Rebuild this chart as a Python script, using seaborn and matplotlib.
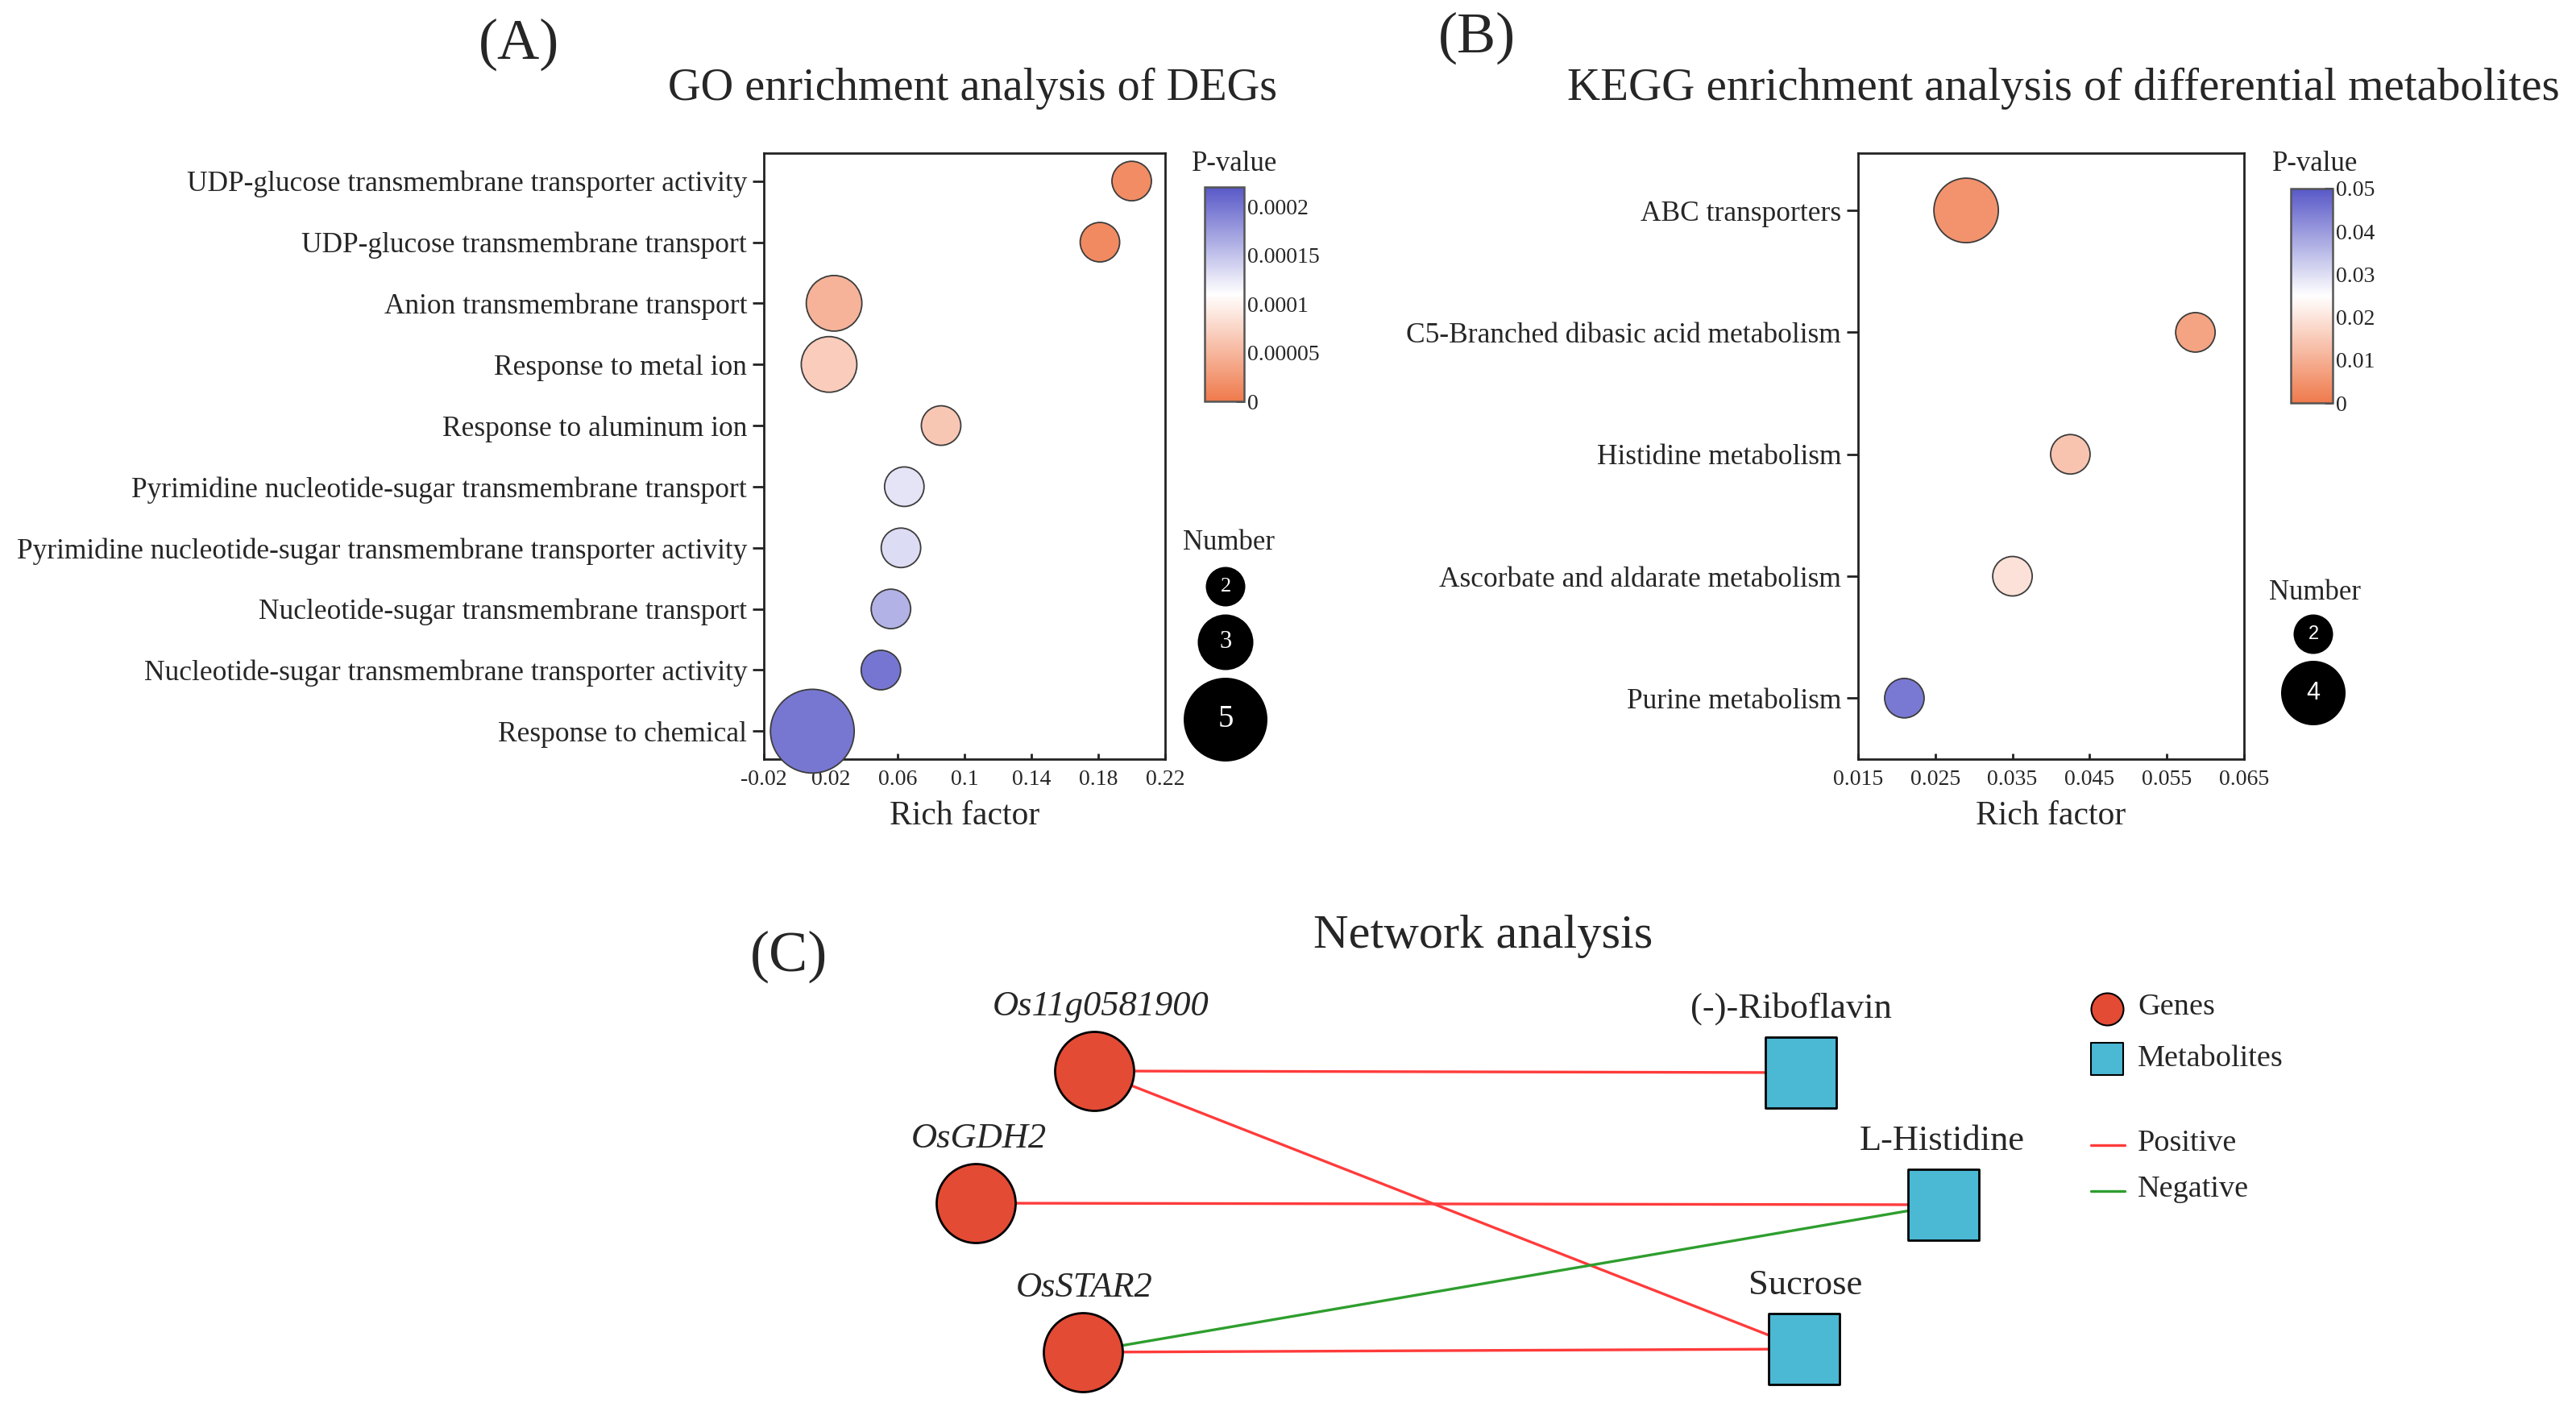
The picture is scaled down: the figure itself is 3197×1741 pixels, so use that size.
import numpy as np
import pandas as pd
import matplotlib
matplotlib.use("Agg")
import matplotlib.pyplot as plt
import seaborn as sns
from matplotlib.colors import LinearSegmentedColormap, Normalize
from matplotlib.cm import ScalarMappable

# ---------------- data ----------------
go_terms = [
    "UDP-glucose transmembrane transporter activity",
    "UDP-glucose transmembrane transport",
    "Anion transmembrane transport",
    "Response to metal ion",
    "Response to aluminum ion",
    "Pyrimidine nucleotide-sugar transmembrane transport",
    "Pyrimidine nucleotide-sugar transmembrane transporter activity",
    "Nucleotide-sugar transmembrane transport",
    "Nucleotide-sugar transmembrane transporter activity",
    "Response to chemical",
]
go_rich = [0.200, 0.181, 0.022, 0.019, 0.086, 0.064, 0.062, 0.056, 0.050, 0.009]
go_pvalue = [0.000015, 0.000013, 0.000048, 0.000068, 0.000064, 0.000128, 0.000133,
             0.000160, 0.000200, 0.000199]
go_number = [2, 2, 3, 3, 2, 2, 2, 2, 2, 5]
go_xticks = [-0.02, 0.02, 0.06, 0.1, 0.14, 0.18, 0.22]
go_xticklabels = ["-0.02", "0.02", "0.06", "0.1", "0.14", "0.18", "0.22"]
go_cbar_ticks = [0, 0.00005, 0.0001, 0.00015, 0.0002]
go_cbar_labels = ["0", "0.00005", "0.0001", "0.00015", "0.0002"]
go_pmax = 0.00022
go_legend_numbers = [2, 3, 5]

kegg_terms = [
    "ABC transporters",
    "C5-Branched dibasic acid metabolism",
    "Histidine metabolism",
    "Ascorbate and aldarate metabolism",
    "Purine metabolism",
]
kegg_rich = [0.029, 0.0587, 0.0425, 0.035, 0.021]
kegg_pvalue = [0.0048, 0.0078, 0.014, 0.0195, 0.045]
kegg_number = [4, 2, 2, 2, 2]
kegg_xticks = [0.015, 0.025, 0.035, 0.045, 0.055, 0.065]
kegg_xticklabels = ["0.015", "0.025", "0.035", "0.045", "0.055", "0.065"]
kegg_cbar_ticks = [0, 0.01, 0.02, 0.03, 0.04, 0.05]
kegg_cbar_labels = ["0", "0.01", "0.02", "0.03", "0.04", "0.05"]
kegg_pmax = 0.05
kegg_legend_numbers = [2, 4]

# network
gene_names = ["Os11g0581900", "OsGDH2", "OsSTAR2"]
gene_x = [1358, 1211, 1344]
gene_y = [1329, 1493, 1678]
metab_names = ["(-)-Riboflavin", "L-Histidine", "Sucrose"]
metab_x = [2235, 2412, 2239]
metab_y = [1331, 1495, 1674]
edge_source = ["Os11g0581900", "Os11g0581900", "OsGDH2", "OsSTAR2", "OsSTAR2"]
edge_target = ["(-)-Riboflavin", "Sucrose", "L-Histidine", "L-Histidine", "Sucrose"]
edge_sign = ["Positive", "Positive", "Positive", "Negative", "Positive"]

# ---------------- style ----------------
sns.set_theme(style="white")
plt.rcParams["font.family"] = ["Liberation Serif", "DejaVu Serif"]
plt.rcParams["axes.edgecolor"] = "#222222"

W, H = 3197, 1741
fig = plt.figure(figsize=(W / 100, H / 100), dpi=100)
fig.patch.set_facecolor("white")

cmap = LinearSegmentedColormap.from_list(
    "pv", [(0.0, "#EF7A4C"), (0.5, "#FFFFFF"), (1.0, "#5858C8")])

go_sizes = {2: 1245, 3: 2470, 5: 5600}
kegg_sizes = {2: 1245, 4: 3320}


def frac(l, t, r, b):
    return [l / W, 1 - b / H, (r - l) / W, (b - t) / H]


def bubble_panel(rect, terms, rich, pvals, nums, sizes, pmax, xticks, xlabels, ypad):
    ax = fig.add_axes(frac(*rect))
    df = pd.DataFrame({"term": terms, "rich": rich, "p": pvals, "n": nums,
                       "ypos": np.arange(len(terms))})
    sns.scatterplot(data=df, x="rich", y="ypos", hue="p", size="n",
                    palette=cmap, hue_norm=Normalize(0, pmax), sizes=sizes,
                    edgecolor="#3c3c3c", linewidth=1.3, legend=False, ax=ax,
                    zorder=3, clip_on=False)
    ax.set_xlim(xticks[0], xticks[-1])
    ax.set_ylim(len(terms) - 1 + ypad[1], -ypad[0])
    ax.set_yticks(df["ypos"])
    ax.set_yticklabels(terms, fontsize=25.5)
    ax.set_xticks(xticks)
    ax.set_xticklabels(xlabels, fontsize=20)
    ax.set_ylabel("")
    ax.set_xlabel("Rich factor", fontsize=30, labelpad=10)
    ax.tick_params(axis="y", direction="out", length=10, width=2, pad=5,
                   left=True, color="#222222")
    ax.tick_params(axis="x", direction="in", length=5, width=2, pad=9,
                   bottom=True, color="#222222")
    for s in ax.spines.values():
        s.set_linewidth(2)
        s.set_color("#222222")
    return ax


axA = bubble_panel((948, 190, 1446, 942), go_terms, go_rich, go_pvalue, go_number,
                   go_sizes, go_pmax, go_xticks, go_xticklabels, (0.457, 0.457))
axB = bubble_panel((2306, 190, 2785, 942), kegg_terms, kegg_rich, kegg_pvalue,
                   kegg_number, kegg_sizes, kegg_pmax, kegg_xticks,
                   kegg_xticklabels, (0.47, 0.5))


def colorbar(rect, pmax, ticks, labels):
    cax = fig.add_axes(frac(*rect))
    sm = ScalarMappable(norm=Normalize(0, pmax), cmap=cmap)
    cb = fig.colorbar(sm, cax=cax)
    cb.set_ticks(ticks)
    cb.set_ticklabels(labels)
    cb.ax.tick_params(direction="in", length=7, width=2, labelsize=20, pad=3,
                      color="#222222")
    cb.outline.set_edgecolor("#555555")
    cb.outline.set_linewidth(1.8)
    return cb


colorbar((1495, 232, 1544, 498), go_pmax, go_cbar_ticks, go_cbar_labels)
colorbar((2843, 234, 2895, 500), kegg_pmax, kegg_cbar_ticks, kegg_cbar_labels)

# ---------------- overlay (pixel coordinates) ----------------
ov = fig.add_axes([0, 0, 1, 1])
ov.set_xlim(0, W)
ov.set_ylim(H, 0)
ov.axis("off")

# titles
ov.text(644, 55, "(A)", fontsize=52, ha="center", va="center")
ov.text(1207, 110, "GO enrichment analysis of DEGs", fontsize=40.5, ha="center", va="center")
ov.text(1833, 47, "(B)", fontsize=52, ha="center", va="center")
ov.text(2561, 110, "KEGG enrichment analysis of differential metabolites", fontsize=41,
        ha="center", va="center")
ov.text(979, 1187, "(C)", fontsize=52, ha="center", va="center")
ov.text(1841, 1162, "Network analysis", fontsize=43.5, ha="center", va="center")

# P-value titles
ov.text(1532, 203, "P-value", fontsize=25, ha="center", va="center")
ov.text(2873, 203, "P-value", fontsize=25, ha="center", va="center")

# Number legends
ov.text(1525, 673, "Number", fontsize=25, ha="center", va="center")
legA = pd.DataFrame({"x": [1521] * 3, "y": [728, 797, 893], "n": go_legend_numbers})
sns.scatterplot(data=legA, x="x", y="y", size="n", sizes=go_sizes, color="black",
                edgecolor="black", linewidth=0, legend=False, ax=ov)
for x, y, n, fs in zip(legA["x"], legA["y"], legA["n"], [19, 22, 28]):
    ov.text(x, y, str(n), color="white", fontsize=fs, ha="center", va="center")

ov.text(2873, 736, "Number", fontsize=25, ha="center", va="center")
legB = pd.DataFrame({"x": [2871] * 2, "y": [787, 860], "n": kegg_legend_numbers})
sns.scatterplot(data=legB, x="x", y="y", size="n", sizes=kegg_sizes, color="black",
                edgecolor="black", linewidth=0, legend=False, ax=ov)
for x, y, n, fs in zip(legB["x"], legB["y"], legB["n"], [17, 22]):
    ov.text(x, y, str(n), color="white", fontsize=fs, ha="center", va="center",
            family=["Liberation Sans", "DejaVu Sans"])

ov.set_xlim(0, W)
ov.set_ylim(H, 0)
ov.set_xlabel("")
ov.set_ylabel("")

# ---------------- network ----------------
gene_color = "#E34B35"
metab_color = "#4BB8D4"
edge_colors = {"Positive": "#FF3B3B", "Negative": "#2E9E2E"}
pos = {}
for n, x, y in zip(gene_names, gene_x, gene_y):
    pos[n] = (x, y)
for n, x, y in zip(metab_names, metab_x, metab_y):
    pos[n] = (x, y)

for s, t, sign in zip(edge_source, edge_target, edge_sign):
    ov.plot([pos[s][0], pos[t][0]], [pos[s][1], pos[t][1]],
            color=edge_colors[sign], lw=2.4, zorder=2, solid_capstyle="butt")

nodes = pd.DataFrame({
    "x": gene_x + metab_x,
    "y": gene_y + metab_y,
    "kind": ["Genes"] * len(gene_x) + ["Metabolites"] * len(metab_x),
})
g = nodes[nodes.kind == "Genes"]
m = nodes[nodes.kind == "Metabolites"]
ov.scatter(g.x, g.y, s=(98 * 0.72) ** 2, marker="o", c=gene_color,
           edgecolors="black", linewidths=2, zorder=4)
ov.scatter(m.x, m.y, s=(88 * 0.72) ** 2, marker="s", c=metab_color,
           edgecolors="black", linewidths=2, zorder=4)

gene_label_dx = [8, 4, 2]
for n, x, y, dx in zip(gene_names, gene_x, gene_y, gene_label_dx):
    ov.text(x + dx, y - 80, n, fontsize=32, style="italic", ha="center", va="center")
metab_label_dx = [-12, -2, 2]
for n, x, y, dx in zip(metab_names, metab_x, metab_y, metab_label_dx):
    ov.text(x + dx, y - 79, n, fontsize=32, ha="center", va="center")

# network legend
ov.scatter([2615], [1252], s=(40 * 0.72) ** 2, marker="o", c=gene_color,
           edgecolors="black", linewidths=1.5, zorder=4)
ov.scatter([2615], [1314], s=(40 * 0.72) ** 2, marker="s", c=metab_color,
           edgecolors="black", linewidths=1.5, zorder=4)
ov.text(2653, 1250, "Genes", fontsize=27.5, ha="left", va="center")
ov.text(2653, 1314, "Metabolites", fontsize=27.5, ha="left", va="center")
ov.plot([2595, 2637], [1421, 1421], color=edge_colors["Positive"], lw=2.4)
ov.plot([2595, 2637], [1478, 1478], color=edge_colors["Negative"], lw=2.4)
ov.text(2653, 1419, "Positive", fontsize=27.5, ha="left", va="center")
ov.text(2653, 1476, "Negative", fontsize=27.5, ha="left", va="center")

fig.savefig("out.png", dpi=100)
